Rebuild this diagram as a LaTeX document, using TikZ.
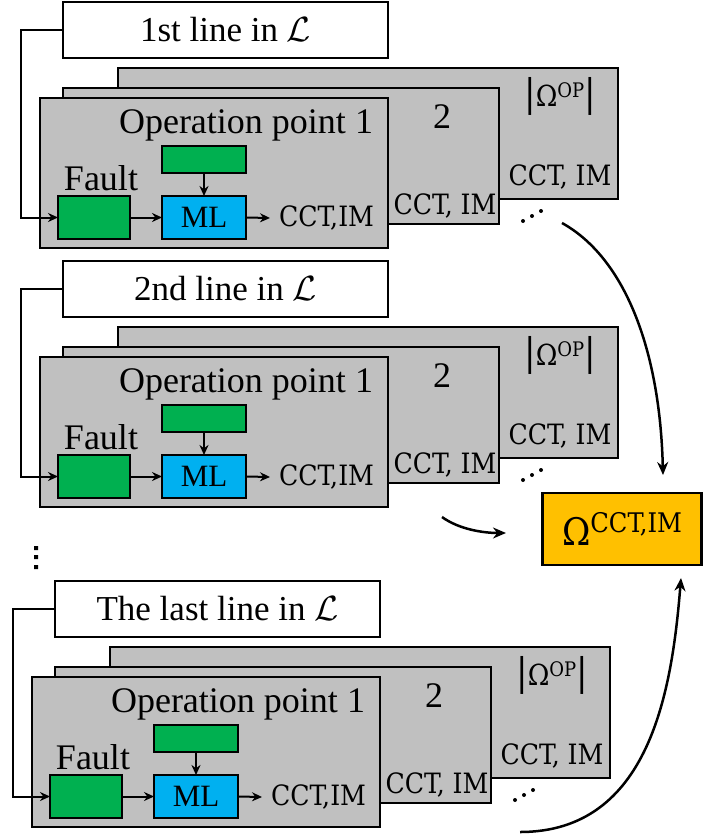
\RequirePackage{fix-cm}
\documentclass[tikz,border=0pt]{standalone}
\usepackage{fontspec}
\setmainfont{Liberation Serif}
\newfontfamily\cam{DejaVu Serif Condensed}
\usetikzlibrary{arrows.meta}
\definecolor{gbox}{RGB}{192,192,192}
\definecolor{grn}{RGB}{0,176,80}
\definecolor{blu}{RGB}{0,176,240}
\definecolor{org}{RGB}{255,192,0}
\tikzset{
  every node/.style={inner sep=0pt, outer sep=0pt},
  panel/.style={draw, line width=2.8pt, fill=gbox},
  titlebox/.style={draw, line width=2.8pt, fill=white, minimum width=325pt, minimum height=56pt, font=\fontsize{35}{40}\selectfont},
  gbx/.style={draw, line width=2.8pt, fill=grn},
  mlbx/.style={draw, line width=2.8pt, fill=blu, font=\fontsize{31}{34}\selectfont},
  txt/.style={font=\fontsize{36}{40}\selectfont},
  ctxt/.style={font=\cam\fontsize{28}{30}\selectfont},
  arr/.style={line width=2pt, -{Stealth[length=10pt,width=9pt]}},
  carr/.style={line width=2.5pt, -{Stealth[length=13pt,width=11pt]}},
  dotm/.style={fill=black},
}
\newcommand{\omop}{{\cam\fontsize{38}{38}\selectfont|\fontsize{29}{30}\selectfont Ω\raisebox{9pt}{\fontsize{20}{22}\selectfont OP}\fontsize{38}{38}\selectfont|}}
\newcommand{\lineblock}[4]{%
\begin{scope}[shift={(#2,#3)}]
  \node[titlebox] (#1t) at (225.5,30) {#4};
  \node[panel, minimum width=500pt, minimum height=131pt] (#1b) at (368,133.5) {};
  \node[panel, minimum width=436pt, minimum height=136pt] (#1m) at (281,156) {};
  \node[panel, minimum width=348pt, minimum height=150pt] (#1f) at (214,173) {};
  \node[txt] (#1op) at (246,125) {Operation point 1};
  \node[gbx, minimum width=84pt, minimum height=27pt] (#1g) at (204,159.5) {};
  \node[gbx, minimum width=72pt, minimum height=43pt] (#1fb) at (94,217.5) {};
  \node[mlbx, minimum width=84pt, minimum height=43pt] (#1ml) at (204,217.5) {\raisebox{-3pt}{ML}};
  \node[txt] (#1fl) at (101,178) {Fault};
  \node[ctxt, anchor=west] (#1cf) at (279,218) {CCT,IM};
  \node[txt] (#1two) at (442,117) {2};
  \node[ctxt] (#1cm) at (445,206) {CCT, IM};
  \node (#1op2) at (560,96) {\omop};
  \node[ctxt] (#1cb) at (560,177) {CCT, IM};
  \fill[dotm] (523,221) circle (2pt) (532,216) circle (2pt) (541,211) circle (2pt);
  \draw[arr] (#1t.west) -- ++(-42,0) |- (#1fb.west);
  \draw[arr] (#1fb.east) -- (#1ml.west);
  \draw[arr] (#1g.south) -- (#1ml.north);
  \draw[arr] (#1ml.east) -- ([xshift=-9pt]#1cf.west);
\end{scope}}
\begin{document}
\begin{tikzpicture}[x=1pt,y=-1pt]
  \path[use as bounding box] (0,0) rectangle (703,837);
  \lineblock{a}{0}{0}{1st line in $\mathcal{L}$}
  \lineblock{b}{0}{259}{2nd line in $\mathcal{L}$}
  \lineblock{c}{-8}{579}{The last line in $\mathcal{L}$}
  \fill[dotm] (34,546) rectangle (38,550) (34,555) rectangle (38,559) (34,565) rectangle (38,569);
  \node[draw, line width=2.8pt, fill=org, minimum width=159pt, minimum height=72pt,
        font=\cam\fontsize{38}{40}\selectfont] (om) at (622,529)
        {Ω\raisebox{13pt}{\fontsize{27}{30}\selectfont CCT,IM}};
  \coordinate (s1) at (562,223);
  \coordinate (e1) at (663,475);
  \coordinate (s2) at (442,517);
  \coordinate (e2) at (506,533);
  \coordinate (s3) at (520,832);
  \coordinate (e3) at (681,578);
  \draw[carr] (s1) .. controls (625,258) and (660,350) .. (e1);
  \draw[carr] (s2) .. controls (460,530) and (485,533) .. (e2);
  \draw[carr] (s3) .. controls (650,832) and (672,690) .. (e3);
\end{tikzpicture}
\end{document}
